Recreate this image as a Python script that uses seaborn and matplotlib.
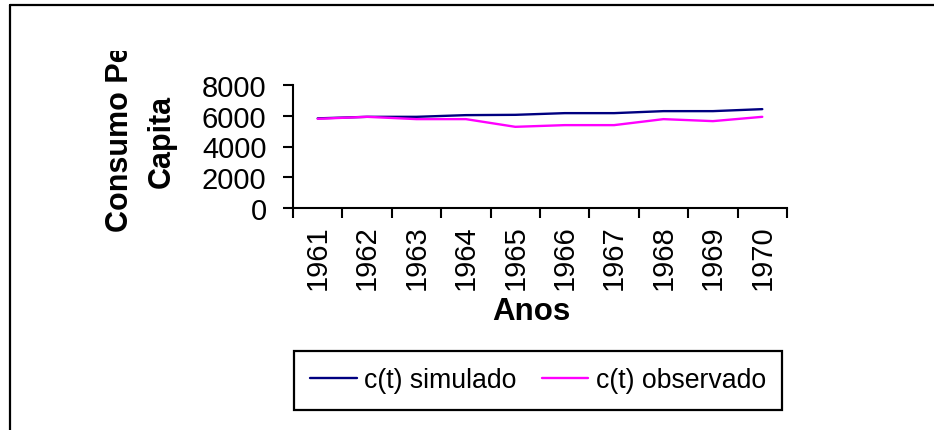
import matplotlib
matplotlib.use("Agg")
import matplotlib.pyplot as plt
from matplotlib.lines import Line2D
from matplotlib.transforms import Bbox, TransformedBbox
from matplotlib.ticker import FixedLocator
import seaborn as sns
import pandas as pd

# Consumption per capita, 1961-1970
anos = ["1961", "1962", "1963", "1964", "1965", "1966", "1967", "1968", "1969", "1970"]
simulado = [5830, 5930, 5930, 6040, 6060, 6170, 6170, 6300, 6300, 6430]
observado = [5800, 5930, 5780, 5780, 5280, 5390, 5390, 5780, 5650, 5930]
series_names = ["c(t) simulado", "c(t) observado"]
y_ticks = [0, 2000, 4000, 6000, 8000]

df = pd.DataFrame({
    "Anos": anos * 2,
    "valor": simulado + observado,
    "serie": [series_names[0]] * len(anos) + [series_names[1]] * len(anos),
})

sns.set_style("white")
plt.rcParams["font.family"] = ["Liberation Sans", "DejaVu Sans"]
plt.rcParams["text.color"] = "black"
plt.rcParams["axes.labelcolor"] = "black"
plt.rcParams["xtick.color"] = "black"
plt.rcParams["ytick.color"] = "black"

W, H = 934, 431
fig = plt.figure(figsize=(W / 100, H / 100), dpi=100)
fig.patch.set_facecolor("white")


def fx(px):
    return px / W


def fy(py):
    return (H - py) / H


ax = fig.add_axes([fx(293), fy(209), fx(787) - fx(293), fy(86) - fy(209)])

sns.lineplot(data=df, x="Anos", y="valor", hue="serie", sort=False,
             palette=["#000080", "#FF00FF"], linewidth=1.7, ax=ax, legend=False)

ax.set_xlim(-0.5, len(anos) - 0.5)
ax.set_ylim(y_ticks[0], y_ticks[-1])
ax.set_yticks(y_ticks)
ax.set_yticklabels([str(v) for v in y_ticks])
ax.set_xticks(range(len(anos)))
ax.set_xticklabels(anos, rotation=90, va="top", ha="center")
ax.xaxis.set_minor_locator(FixedLocator([i - 0.5 for i in range(len(anos) + 1)]))

for side in ["top", "right"]:
    ax.spines[side].set_visible(False)
for side in ["left", "bottom"]:
    ax.spines[side].set_color("black")
    ax.spines[side].set_linewidth(1.5)

ax.tick_params(axis="y", which="major", direction="out", length=7, width=1.5,
               color="black", labelcolor="black", labelsize=21, pad=12, left=True)
ax.tick_params(axis="x", which="major", length=0, labelsize=21,
               labelcolor="black", pad=12)
ax.tick_params(axis="x", which="minor", direction="out", length=7, width=1.5,
               color="black", bottom=True)
ax.set_xlabel("")
ax.set_ylabel("")
ax.grid(False)

# axis titles
fig.text(fx(531), fy(320), "Anos", ha="center", va="baseline",
         fontsize=22.5, fontweight="bold", color="black")
t1 = fig.text(fx(120), fy(232), "Consumo Per", rotation=90, ha="center",
              va="bottom", fontsize=22, fontweight="bold", color="black")
t1.set_clip_box(TransformedBbox(Bbox([[0, 0], [1, fy(52)]]), fig.transFigure))
t1.set_clip_on(True)
fig.text(fx(162), fy(141.5), "Capita", rotation=90, ha="center", va="center",
         fontsize=22, fontweight="bold", color="black")

# legend box
handles = [Line2D([], [], color="#000080", linewidth=1.7),
           Line2D([], [], color="#FF00FF", linewidth=1.7)]
leg = fig.legend(handles, series_names, loc="center",
                 bbox_to_anchor=(fx(538), fy(381.5)), ncol=2, fontsize=19.2,
                 frameon=True, fancybox=False, framealpha=1.0,
                 handlelength=1.75, handletextpad=0.27, columnspacing=0.95,
                 borderpad=0.62, labelcolor="black")
frame = leg.get_frame()
frame.set_edgecolor("black")
frame.set_linewidth(1.6)

# outer chart border
fig.add_artist(Line2D([fx(10), fx(10)], [fy(6), 0], color="black", linewidth=1.6,
                      transform=fig.transFigure))
fig.add_artist(Line2D([fx(10), 1], [fy(6), fy(6)], color="black", linewidth=1.6,
                      transform=fig.transFigure))

fig.savefig("out.png", dpi=100, facecolor="white")
